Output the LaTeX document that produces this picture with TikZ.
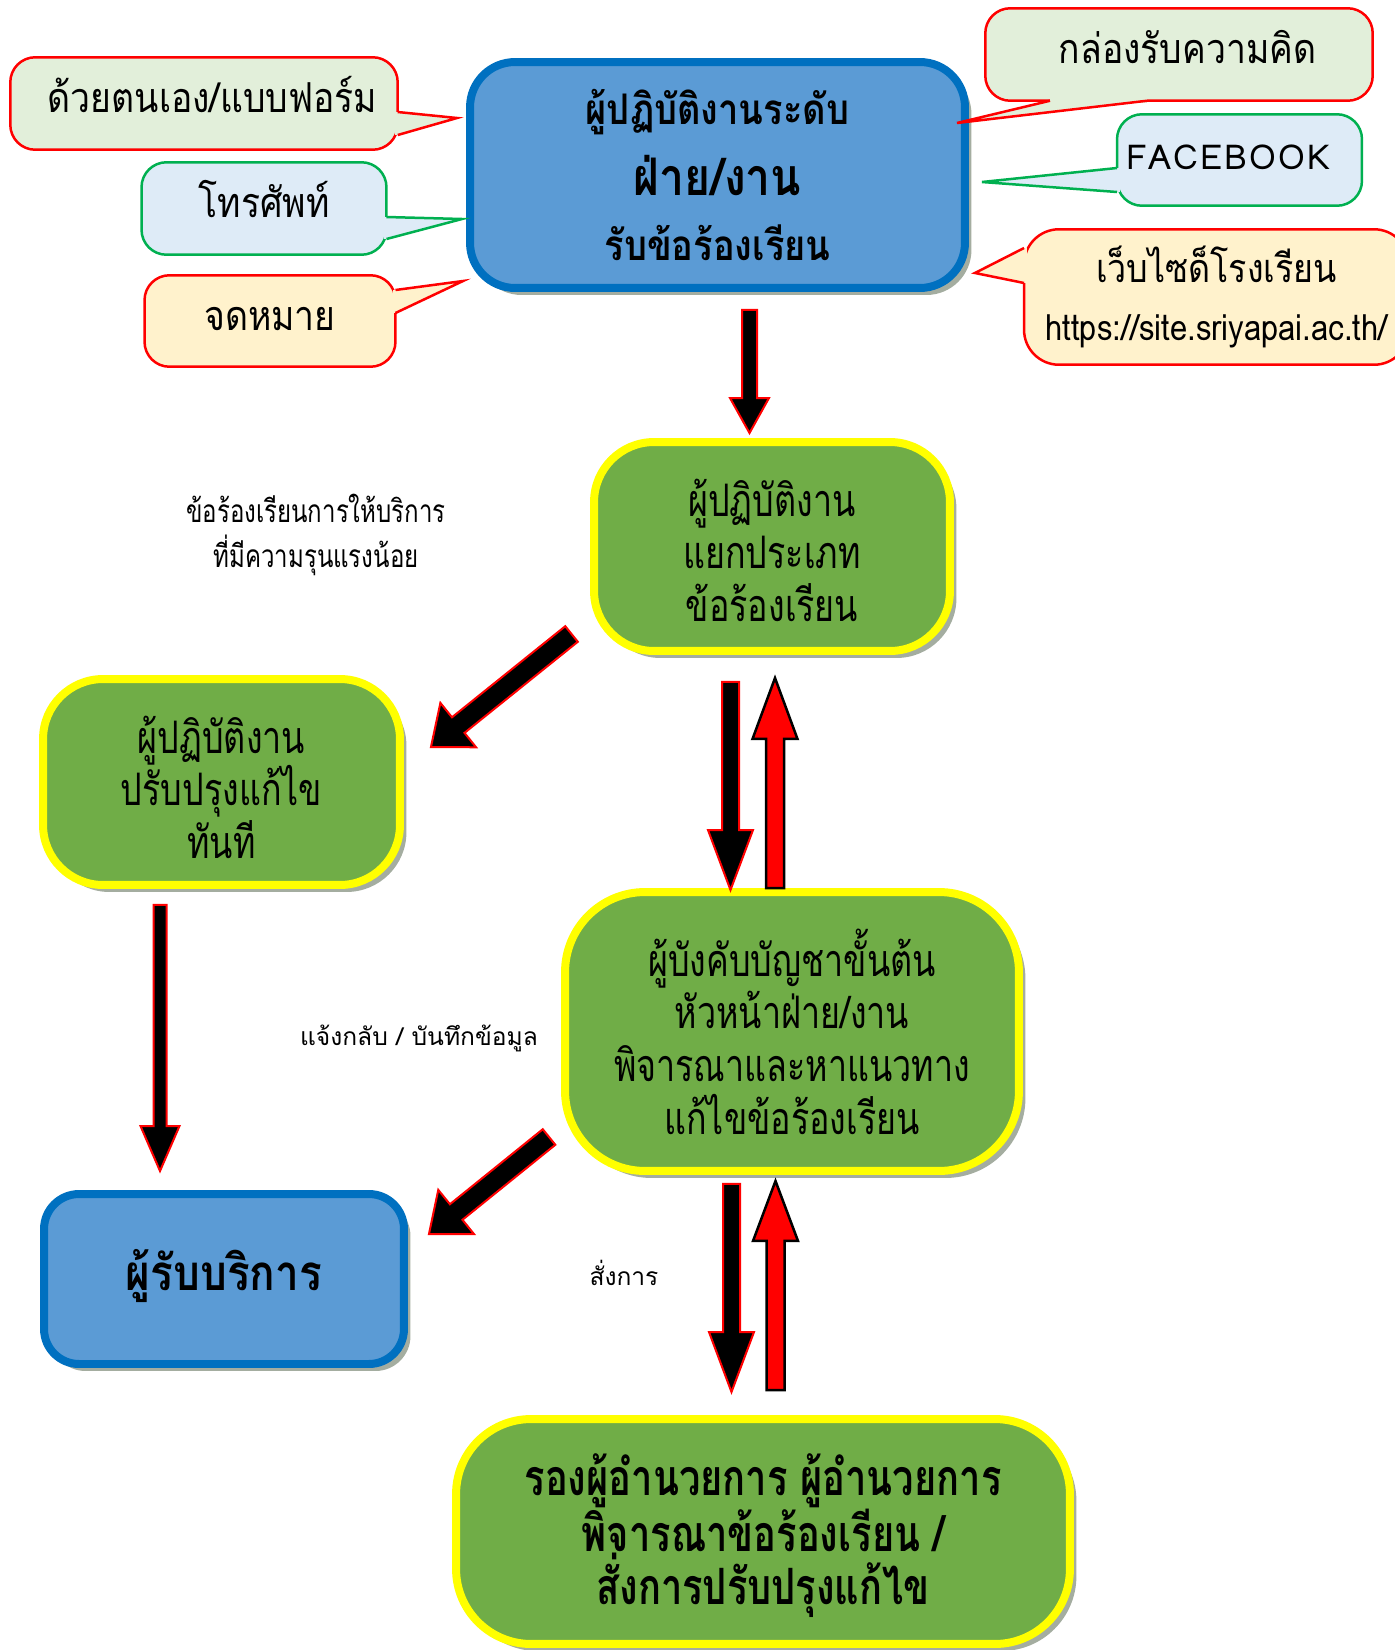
\documentclass[tikz,border=0pt]{standalone}
\usepackage{fontspec}
\setmainfont[Script=Thai]{Loma}
\newfontfamily\narrowthai[Script=Thai,FakeStretch=0.76]{Loma}
\newfontfamily\slimthai[Script=Thai,FakeStretch=0.86]{Loma}
\usetikzlibrary{positioning,calc,shadows}

\definecolor{boxblue}{HTML}{5B9BD5}
\definecolor{edgeblue}{HTML}{0070C0}
\definecolor{boxgreen}{HTML}{70AD47}
\definecolor{edgeyellow}{HTML}{FFFF00}
\definecolor{edgegreen}{HTML}{00B050}
\definecolor{palegreen}{HTML}{E2EFDA}
\definecolor{paleblue}{HTML}{DEEBF7}
\definecolor{paleorange}{HTML}{FFF2CC}
\definecolor{shadowgray}{HTML}{A4ADA0}

\tikzset{
    boxshadow/.style={drop shadow={shadow xshift=1.3mm,shadow yshift=-1.4mm,fill=shadowgray,opacity=1}},
    bluebox/.style={draw=edgeblue,fill=boxblue,line width=1.6mm,rounded corners=9mm,
        boxshadow,align=center,inner sep=0pt},
    greenbox/.style={draw=edgeyellow,fill=boxgreen,line width=1.6mm,rounded corners=12mm,
        boxshadow,align=center,inner sep=0pt,font=\narrowthai\fontsize{25.5pt}{30pt}\selectfont},
    callbox/.style={line width=0.5mm,rounded corners=5mm,outer sep=0pt,align=center,
        inner sep=0pt,text height=12pt,text depth=1.6pt,font=\slimthai\fontsize{23.5pt}{30pt}\selectfont},
    note/.style={align=center,inner sep=0pt,font=\fontsize{14pt}{26pt}\selectfont},
    blackarrow/.style={fill=black,draw=red,line width=0.4mm},
    redarrow/.style={fill=red,draw=black,line width=0.5mm}
}

% block arrow: #1 style, #2 tail, #3 tip, #4 half shaft, #5 half head, #6 head length
\newcommand{\blockarrow}[6]{%
    \coordinate (bt) at #2;
    \coordinate (bh) at #3;
    \coordinate (bm) at ($(bh)!#6!(bt)$);
    \draw[#1] ($(bt)!#4!90:(bh)$) -- ($(bm)!#4!90:(bh)$) -- ($(bm)!#5!90:(bh)$) -- (bh)
        -- ($(bm)!#5!-90:(bh)$) -- ($(bm)!#4!-90:(bh)$) -- ($(bt)!#4!-90:(bh)$) -- cycle;
}
% pointer of a callout: #1 fill, #2 edge colour, #3 base one, #4 tip, #5 base two
\newcommand{\pointer}[5]{%
    \fill[#1] #3 -- #4 -- #5 -- cycle;
    \draw[#1,line width=1mm] #3 -- #5;
    \draw[#2,line width=0.5mm] #3 -- #4 -- #5;
}
% strut that pushes the first line of a box down
\newcommand{\topstrut}[1]{\rule{0pt}{#1}}

\begin{document}
\begin{tikzpicture}[x=0.02cm,y=-0.02cm]
    \useasboundingbox (0,0) rectangle (1395,1650);
    % centres of the boxes
    \coordinate (H) at (717.5,175);
    \coordinate (S) at (772,546.5);
    \coordinate (F) at (221.5,782);
    \coordinate (B) at (792,1031.5);
    \coordinate (C) at (224,1279);
    \coordinate (D) at (763,1531.5);
    % draw the boxes
    \node[bluebox,minimum width=99mm,minimum height=45.2mm,
        font=\slimthai\fontsize{24pt}{37pt}\selectfont\bfseries] (hub) at (H)
        {ผู้ปฏิบัติงานระดับ\\{\fontsize{29.5pt}{37pt}\selectfont\topstrut{33pt}ฝ่าย/งาน}\\\topstrut{30pt}รับข้อร้องเรียน};
    \node[greenbox,minimum width=71.2mm,minimum height=41.8mm] (sort) at (S)
        {\topstrut{25.5pt}ผู้ปฏิบัติงาน\\แยกประเภท\\ข้อร้องเรียน};
    \node[greenbox,minimum width=71.4mm,minimum height=41.2mm] (fix) at (F)
        {\topstrut{27.2pt}ผู้ปฏิบัติงาน\\ปรับปรุงแก้ไข\\ทันที};
    \node[greenbox,rounded corners=16mm,minimum width=90.8mm,minimum height=55.8mm] (boss) at (B)
        {ผู้บังคับบัญชาขั้นต้น\\หัวหน้าฝ่าย/งาน\\พิจารณาและหาแนวทาง\\แก้ไขข้อร้องเรียน};
    \node[bluebox,rounded corners=7mm,minimum width=72mm,minimum height=34mm,text height=20pt,text depth=6.4pt,
        font=\slimthai\fontsize{28pt}{30pt}\selectfont\bfseries] (client) at (C) {ผู้รับบริการ};
    \node[greenbox,rounded corners=15mm,minimum width=122.8mm,minimum height=45mm,
        font=\narrowthai\fontsize{28.5pt}{30pt}\selectfont\bfseries] (chief) at (D)
        {\topstrut{28.2pt}รองผู้อำนวยการ ผู้อำนวยการ\\พิจารณาข้อร้องเรียน /\\สั่งการปรับปรุงแก้ไข};
    % draw the callouts round the hub
    \node[callbox,draw=red,fill=palegreen,minimum width=77.5mm,minimum height=18.5mm] (self) at (204,103.5)
        {\hspace*{3.4mm}ด้วยตนเอง/แบบฟอร์ม};
    \pointer{palegreen}{red}{($(self.east)+(0,8.5)$)}{($(hub.west)+(-9,-57)$)}{($(self.east)+(0,31.5)$)}
    \node[callbox,draw=edgegreen,fill=paleblue,minimum width=49mm,minimum height=18.5mm] (phone) at (264,208.5)
        {โทรศัพท์};
    \pointer{paleblue}{edgegreen}{($(phone.east)+(0,8.5)$)}{($(hub.west)+(-4,44)$)}{($(phone.east)+(0,30.5)$)}
    \node[callbox,draw=red,fill=paleorange,minimum width=50.2mm,minimum height=18.3mm] (mail) at (270,321)
        {จดหมาย};
    \pointer{paleorange}{red}{($(mail.east)+(0,-31)$)}{($(hub.west)+(-3,106)$)}{($(mail.east)+(0,-8)$)}
    \node[callbox,draw=red,fill=palegreen,minimum width=77.5mm,minimum height=18.5mm] (idea) at (1179,54.5)
        {\hspace*{3.4mm}กล่องรับความคิด};
    \pointer{palegreen}{red}{($(idea.south)+(-129,0)$)}{($(hub.east)+(-12,-52)$)}{($(idea.south)+(-32,0)$)}
    \node[callbox,draw=edgegreen,fill=paleblue,minimum width=49mm,minimum height=18.3mm,
        font=\fontsize{19.5pt}{24pt}\selectfont\addfontfeature{LetterSpace=6}] (fb) at (1239.5,160)
        {FACEBOOK\hspace*{4.6mm}};
    \pointer{paleblue}{edgegreen}{($(fb.west)+(0,8)$)}{($(hub.east)+(13,7)$)}{($(fb.west)+(0,32)$)}
    \node[callbox,text height=,text depth=,rounded corners=7mm,draw=red,fill=paleorange,
        minimum width=77mm,minimum height=27.1mm,font=\slimthai\fontsize{22.5pt}{33pt}\selectfont] (web) at (1216.5,297)
        {เว็บไซด็โรงเรียน\\\fontsize{20.5pt}{33pt}\selectfont https://site.sriyapai.ac.th/};
    \pointer{paleorange}{red}{($(web.west)+(0,-49)$)}{($(hub.east)+(6,98)$)}{($(web.west)+(0,-14)$)}
    % draw the arrows between the boxes
    \blockarrow{blackarrow}{($(hub.south)+(32,18)$)}{($(sort.north)+(-22.5,-5)$)}{1.5mm}{3.9mm}{7mm}
    \blockarrow{blackarrow}{($(sort.south)+(-41.5,27)$)}{($(boss.north)+(-61.5,2)$)}{1.7mm}{4.5mm}{12mm}
    \blockarrow{redarrow}{($(boss.north)+(-17,0)$)}{($(sort.south)+(3,23)$)}{1.8mm}{4.5mm}{12.2mm}
    \blockarrow{blackarrow}{($(sort.south west)+(-18.5,-21)$)}{($(fix.east)+(27,-35)$)}{2mm}{5.7mm}{7mm}
    \blockarrow{blackarrow}{($(fix.south)+(-61.5,16)$)}{($(client.north)+(-64,-19)$)}{1.3mm}{3.9mm}{9mm}
    \blockarrow{blackarrow}{($(boss.west)+(-12,105.5)$)}{($(client.east)+(21,-45)$)}{2mm}{5.7mm}{7mm}
    \blockarrow{blackarrow}{($(boss.south)+(-60.5,9)$)}{($(chief.north)+(-31.5,-23)$)}{1.7mm}{4.5mm}{12mm}
    \blockarrow{redarrow}{($(chief.north)+(12.5,-25)$)}{($(boss.south)+(-16.5,6)$)}{1.8mm}{4.5mm}{12mm}
    % add labels
    \node[note,font=\narrowthai\fontsize{18pt}{26pt}\selectfont] (light) at (316,535)
        {ข้อร้องเรียนการให้บริการ\\ที่มีความรุนแรงน้อย};
    \node[note] (reply) at (419,1038) {แจ้งกลับ / บันทึกข้อมูล};
    \node[note] (order) at (624,1273) {สั่งการ};
\end{tikzpicture}
\end{document}
